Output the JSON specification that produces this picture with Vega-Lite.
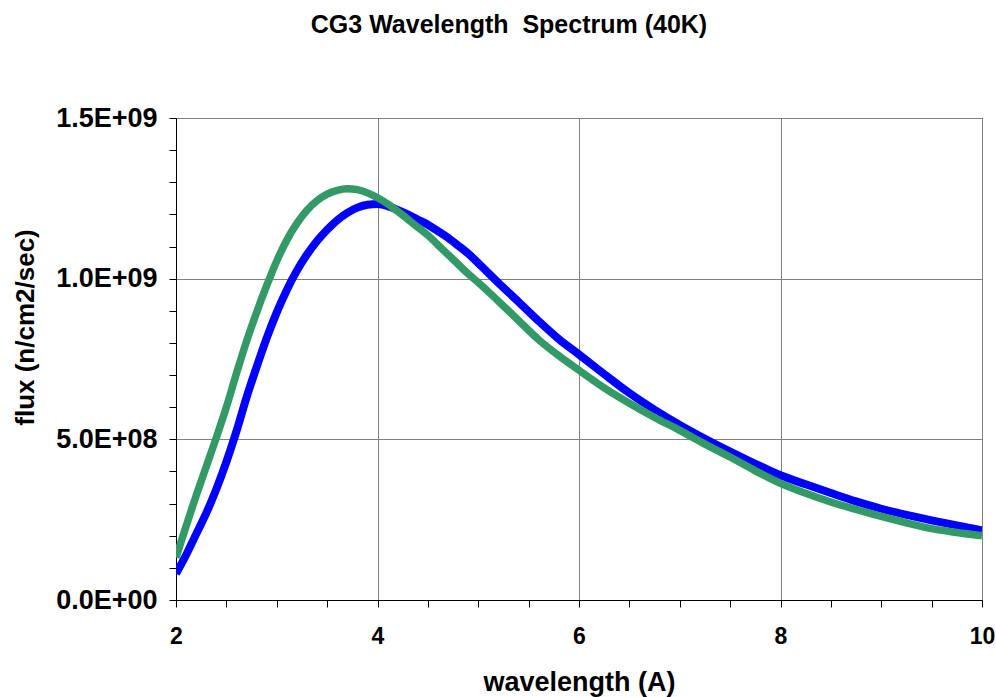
{
  "$schema": "https://vega.github.io/schema/vega-lite/v6.json",
  "width": 806,
  "height": 482,
  "autosize": {"type": "none"},
  "padding": {"left": 176, "top": 118, "right": 14, "bottom": 97},
  "background": "white",
  "title": {
    "text": "CG3 Wavelength \u00a0Spectrum (40K)",
    "font": "Liberation Sans",
    "fontSize": 25,
    "fontWeight": "bold",
    "color": "black",
    "anchor": "middle",
    "frame": "group",
    "baseline": "alphabetic",
    "dx": -70,
    "offset": 46
  },
  "config": {
    "view": {"stroke": "black", "strokeWidth": 1},
    "axis": {
      "domainColor": "black",
      "tickColor": "black",
      "tickSize": 7,
      "gridColor": "#808080",
      "gridWidth": 1,
      "labelFont": "Liberation Sans",
      "labelFontWeight": "bold",
      "labelColor": "black",
      "titleFont": "Liberation Sans",
      "titleFontWeight": "bold",
      "titleColor": "black",
      "titleFontSize": 26
    }
  },
  "data": {
    "values": [
      {"w": 2.0, "f": 0.82e8, "s": "blue"},
      {"w": 2.1, "f": 1.4e8, "s": "blue"},
      {"w": 2.2, "f": 2.05e8, "s": "blue"},
      {"w": 2.3, "f": 2.7e8, "s": "blue"},
      {"w": 2.4, "f": 3.45e8, "s": "blue"},
      {"w": 2.5, "f": 4.3e8, "s": "blue"},
      {"w": 2.6, "f": 5.25e8, "s": "blue"},
      {"w": 2.7, "f": 6.3e8, "s": "blue"},
      {"w": 2.8, "f": 7.25e8, "s": "blue"},
      {"w": 2.9, "f": 8.15e8, "s": "blue"},
      {"w": 3.0, "f": 8.95e8, "s": "blue"},
      {"w": 3.1, "f": 9.65e8, "s": "blue"},
      {"w": 3.2, "f": 10.25e8, "s": "blue"},
      {"w": 3.3, "f": 10.75e8, "s": "blue"},
      {"w": 3.4, "f": 11.17e8, "s": "blue"},
      {"w": 3.5, "f": 11.52e8, "s": "blue"},
      {"w": 3.6, "f": 11.82e8, "s": "blue"},
      {"w": 3.7, "f": 12.05e8, "s": "blue"},
      {"w": 3.8, "f": 12.21e8, "s": "blue"},
      {"w": 3.9, "f": 12.3e8, "s": "blue"},
      {"w": 4.0, "f": 12.32e8, "s": "blue"},
      {"w": 4.1, "f": 12.26e8, "s": "blue"},
      {"w": 4.2, "f": 12.14e8, "s": "blue"},
      {"w": 4.3, "f": 12.0e8, "s": "blue"},
      {"w": 4.4, "f": 11.84e8, "s": "blue"},
      {"w": 4.5, "f": 11.68e8, "s": "blue"},
      {"w": 4.6, "f": 11.48e8, "s": "blue"},
      {"w": 4.7, "f": 11.27e8, "s": "blue"},
      {"w": 4.8, "f": 11.03e8, "s": "blue"},
      {"w": 4.9, "f": 10.78e8, "s": "blue"},
      {"w": 5.0, "f": 10.48e8, "s": "blue"},
      {"w": 5.2, "f": 9.87e8, "s": "blue"},
      {"w": 5.4, "f": 9.28e8, "s": "blue"},
      {"w": 5.6, "f": 8.68e8, "s": "blue"},
      {"w": 5.8, "f": 8.12e8, "s": "blue"},
      {"w": 6.0, "f": 7.64e8, "s": "blue"},
      {"w": 6.25, "f": 7.03e8, "s": "blue"},
      {"w": 6.5, "f": 6.44e8, "s": "blue"},
      {"w": 6.75, "f": 5.92e8, "s": "blue"},
      {"w": 7.0, "f": 5.45e8, "s": "blue"},
      {"w": 7.25, "f": 5.02e8, "s": "blue"},
      {"w": 7.5, "f": 4.62e8, "s": "blue"},
      {"w": 7.75, "f": 4.24e8, "s": "blue"},
      {"w": 8.0, "f": 3.88e8, "s": "blue"},
      {"w": 8.25, "f": 3.6e8, "s": "blue"},
      {"w": 8.5, "f": 3.33e8, "s": "blue"},
      {"w": 8.75, "f": 3.07e8, "s": "blue"},
      {"w": 9.0, "f": 2.84e8, "s": "blue"},
      {"w": 9.25, "f": 2.65e8, "s": "blue"},
      {"w": 9.5, "f": 2.48e8, "s": "blue"},
      {"w": 9.75, "f": 2.32e8, "s": "blue"},
      {"w": 10.0, "f": 2.17e8, "s": "blue"},
      {"w": 2.0, "f": 1.32e8, "s": "green"},
      {"w": 2.1, "f": 2.3e8, "s": "green"},
      {"w": 2.2, "f": 3.25e8, "s": "green"},
      {"w": 2.3, "f": 4.15e8, "s": "green"},
      {"w": 2.4, "f": 5.05e8, "s": "green"},
      {"w": 2.5, "f": 6.0e8, "s": "green"},
      {"w": 2.6, "f": 7.05e8, "s": "green"},
      {"w": 2.7, "f": 8.05e8, "s": "green"},
      {"w": 2.8, "f": 8.95e8, "s": "green"},
      {"w": 2.9, "f": 9.78e8, "s": "green"},
      {"w": 3.0, "f": 10.55e8, "s": "green"},
      {"w": 3.1, "f": 11.2e8, "s": "green"},
      {"w": 3.2, "f": 11.72e8, "s": "green"},
      {"w": 3.3, "f": 12.13e8, "s": "green"},
      {"w": 3.4, "f": 12.43e8, "s": "green"},
      {"w": 3.5, "f": 12.63e8, "s": "green"},
      {"w": 3.6, "f": 12.75e8, "s": "green"},
      {"w": 3.7, "f": 12.8e8, "s": "green"},
      {"w": 3.8, "f": 12.77e8, "s": "green"},
      {"w": 3.9, "f": 12.67e8, "s": "green"},
      {"w": 4.0, "f": 12.52e8, "s": "green"},
      {"w": 4.1, "f": 12.33e8, "s": "green"},
      {"w": 4.2, "f": 12.1e8, "s": "green"},
      {"w": 4.3, "f": 11.85e8, "s": "green"},
      {"w": 4.4, "f": 11.6e8, "s": "green"},
      {"w": 4.5, "f": 11.35e8, "s": "green"},
      {"w": 4.6, "f": 11.05e8, "s": "green"},
      {"w": 4.7, "f": 10.75e8, "s": "green"},
      {"w": 4.8, "f": 10.45e8, "s": "green"},
      {"w": 4.9, "f": 10.15e8, "s": "green"},
      {"w": 5.0, "f": 9.88e8, "s": "green"},
      {"w": 5.2, "f": 9.3e8, "s": "green"},
      {"w": 5.4, "f": 8.7e8, "s": "green"},
      {"w": 5.6, "f": 8.1e8, "s": "green"},
      {"w": 5.8, "f": 7.6e8, "s": "green"},
      {"w": 6.0, "f": 7.15e8, "s": "green"},
      {"w": 6.25, "f": 6.6e8, "s": "green"},
      {"w": 6.5, "f": 6.12e8, "s": "green"},
      {"w": 6.75, "f": 5.68e8, "s": "green"},
      {"w": 7.0, "f": 5.28e8, "s": "green"},
      {"w": 7.25, "f": 4.85e8, "s": "green"},
      {"w": 7.5, "f": 4.45e8, "s": "green"},
      {"w": 7.75, "f": 4.02e8, "s": "green"},
      {"w": 8.0, "f": 3.63e8, "s": "green"},
      {"w": 8.25, "f": 3.32e8, "s": "green"},
      {"w": 8.5, "f": 3.05e8, "s": "green"},
      {"w": 8.75, "f": 2.82e8, "s": "green"},
      {"w": 9.0, "f": 2.6e8, "s": "green"},
      {"w": 9.25, "f": 2.4e8, "s": "green"},
      {"w": 9.5, "f": 2.22e8, "s": "green"},
      {"w": 9.75, "f": 2.1e8, "s": "green"},
      {"w": 10.0, "f": 2.0e8, "s": "green"}
    ]
  },
  "encoding": {
    "x": {
      "field": "w",
      "type": "quantitative",
      "scale": {"domain": [2, 10], "nice": false, "zero": false},
      "axis": {
        "title": "wavelength (A)",
        "values": [2, 2.5, 3, 3.5, 4, 4.5, 5, 5.5, 6, 6.5, 7, 7.5, 8, 8.5, 9, 9.5, 10],
        "labelExpr": "datum.value % 2 == 0 ? format(datum.value, 'd') : ''",
        "labelFontSize": 23,
        "labelBaseline": "alphabetic",
        "labelPadding": 36,
        "labelFlush": false,
        "labelOverlap": false,
        "gridOpacity": {"condition": {"test": "datum.value % 2 == 0", "value": 1}, "value": 0},
        "titleX": 403,
        "titleY": 90,
        "titleFontSize": 27,
        "titleAlign": "center",
        "titleBaseline": "alphabetic"
      }
    },
    "y": {
      "field": "f",
      "type": "quantitative",
      "scale": {"domain": [0, 1500000000], "nice": false},
      "axis": {
        "title": "flux (n/cm2/sec)",
        "values": [0, 100000000, 200000000, 300000000, 400000000, 500000000, 600000000, 700000000, 800000000, 900000000, 1000000000, 1100000000, 1200000000, 1300000000, 1400000000, 1500000000],
        "labelExpr": "datum.value == 0 ? '0.0E+00' : datum.value == 500000000 ? '5.0E+08' : datum.value == 1000000000 ? '1.0E+09' : datum.value == 1500000000 ? '1.5E+09' : ''",
        "labelFontSize": 27,
        "labelPadding": 12,
        "labelOverlap": false,
        "labelFlush": false,
        "gridOpacity": {"condition": {"test": "datum.value % 500000000 == 0", "value": 1}, "value": 0},
        "titleX": -151,
        "titleY": 209,
        "titleAngle": -90,
        "titleAlign": "center",
        "titleBaseline": "middle"
      }
    }
  },
  "layer": [
    {
      "transform": [{"filter": "datum.s == 'blue'"}],
      "mark": {"type": "line", "color": "#0000FF", "strokeWidth": 8, "interpolate": "monotone", "clip": true}
    },
    {
      "transform": [{"filter": "datum.s == 'green'"}],
      "mark": {"type": "line", "color": "#339966", "strokeWidth": 7.5, "interpolate": "monotone", "clip": true}
    }
  ]
}
